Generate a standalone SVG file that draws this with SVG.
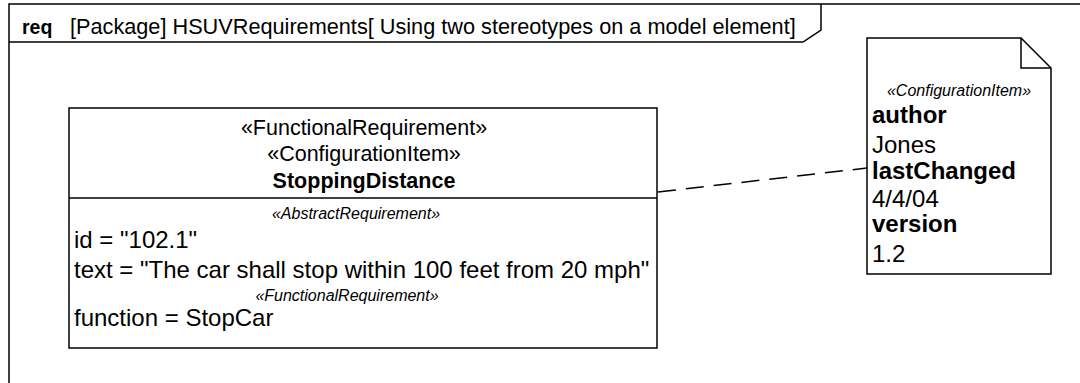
<svg xmlns="http://www.w3.org/2000/svg" width="1080" height="383" viewBox="0 0 1080 383">
<style>
  .ln { fill: none; stroke: #000; stroke-width: 1.5; }
  .box { fill: #fff; stroke: #000; stroke-width: 1.5; }
  .t { font-family: "Liberation Sans", Arial, sans-serif; fill: #000; }
  .body { font-size: 24px; }
  .hdr { font-size: 21.5px; }
  .st { font-size: 16px; font-style: italic; }
  .b { font-weight: bold; }
  .dash { fill: none; stroke: #000; stroke-width: 1.5; stroke-dasharray: 18 10; }
</style>
<rect x="0" y="0" width="1080" height="383" fill="#fff"/>
<g id="frame">
  <path class="ln" d="M9,390 L9,4 L1090,4"/>
  <path class="ln" d="M9,42 L803,42 L821,30 L821,4"/>
  <text class="t b" x="22" y="34" font-size="19.5">req</text>
  <text class="t" x="70" y="34" font-size="21.7">[Package] HSUVRequirements[ Using two stereotypes on a model element]</text>
</g>
<g id="connectors">
  <path class="dash" d="M658,192 L867,168"/>
</g>
<g id="StoppingDistance">
  <rect class="box" x="69" y="108" width="588" height="240"/>
  <line class="ln" x1="69" y1="198" x2="657" y2="198"/>
  <text class="t hdr" x="364" y="135" text-anchor="middle">«FunctionalRequirement»</text>
  <text class="t hdr" x="364" y="161" text-anchor="middle">«ConfigurationItem»</text>
  <text class="t hdr b" x="364" y="188" text-anchor="middle">StoppingDistance</text>
  <text class="t st" x="356" y="219" text-anchor="middle">«AbstractRequirement»</text>
  <text class="t body" x="74" y="248">id = "102.1"</text>
  <text class="t body" x="74" y="278">text = "The car shall stop within 100 feet from 20 mph"</text>
  <text class="t st" x="347" y="301" text-anchor="middle">«FunctionalRequirement»</text>
  <text class="t body" x="74" y="326">function = StopCar</text>
</g>
<g id="ConfigurationItemNote">
  <path class="box" d="M867,38 L1021,38 L1051,68 L1051,274 L867,274 Z"/>
  <path class="ln" d="M1021,38 L1021,68 L1051,68"/>
  <text class="t st" x="959" y="96" text-anchor="middle" font-size="17.5">«ConfigurationItem»</text>
  <text class="t body b" x="872" y="123">author</text>
  <text class="t body" x="872" y="153">Jones</text>
  <text class="t body b" x="872" y="179">lastChanged</text>
  <text class="t body" x="872" y="207">4/4/04</text>
  <text class="t body b" x="872" y="232">version</text>
  <text class="t body" x="872" y="262">1.2</text>
</g>
</svg>
